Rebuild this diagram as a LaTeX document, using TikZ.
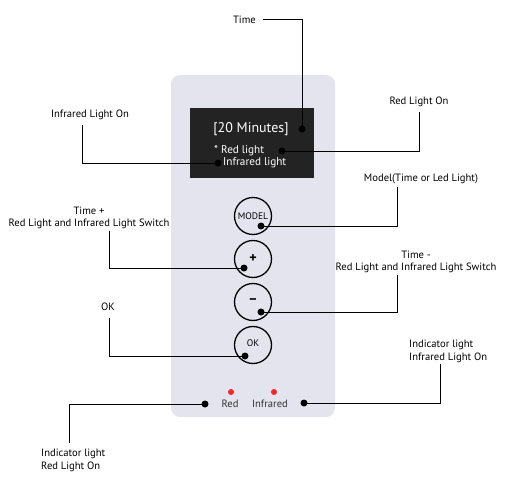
\documentclass[tikz,border=0pt]{standalone}
\usepackage{fontspec}
\setmainfont{PT Sans}
\definecolor{panel}{HTML}{E3E4EE}
\definecolor{screen}{HTML}{232323}
\definecolor{ledred}{HTML}{F0282A}
\begin{document}
\begin{tikzpicture}[x=1pt,y=-1pt,
  lbl/.style={font=\fontsize{10.6}{12.5}\selectfont, text=black, inner sep=0pt, align=center},
  lbll/.style={lbl, align=left},
  conn/.style={draw=black, line width=1pt},
  pin/.style={circle, fill=black, minimum size=7pt, inner sep=0pt},
  btn/.style={circle, draw=black, line width=1.3pt, minimum size=37pt, inner sep=0pt, font=\fontsize{9.5}{10}\selectfont},
  led/.style={circle, fill=ledred, minimum size=6pt, inner sep=0pt}]
\useasboundingbox (0,0) rectangle (512,487);
% panel
\fill[panel, rounded corners=9pt] (171,75) rectangle (335,417);
\fill[screen] (190,108) rectangle (314,178);
% screen texts
\node[font=\fontsize{14}{16}\selectfont, text=white, inner sep=0pt] (mins) at (251,129) {[20 Minutes]};
\node[font=\fontsize{11.2}{13}\selectfont, text=white, inner sep=0pt, anchor=west] (redt) at (214,151) {* Red light};
\node[font=\fontsize{11.2}{13}\selectfont, text=white, inner sep=0pt, anchor=west] (irt) at (223,163) {Infrared light};
% buttons
\node[btn] (bmodel) at (253,216) {MODEL};
\node[btn, font=\fontsize{14}{15}\selectfont\bfseries] (bplus) at (253,259) {+};
\node[btn, font=\fontsize{14}{15}\selectfont\bfseries] (bminus) at (253,302) {\raisebox{1pt}{–}};
\node[btn] (bok) at (253,345) {\raisebox{3pt}{OK}};
% leds
\node[led] (ledr) at (231,392) {};
\node[led] (ledi) at (274,392) {};
\node[lbl, text=black!80] (tred) at (230,404) {Red};
\node[lbl, text=black!80] (tinf) at (270,404) {Infrared};
% pins
\node[pin] (ptime) at (302,129) {};
\node[pin] (pred) at (282,151) {};
\node[pin] (pir) at (218,163) {};
\node[pin] (pmodel) at (261,226) {};
\node[pin] (pplus) at (244,268) {};
\node[pin] (pminus) at (261,312) {};
\node[pin] (pok) at (245,356) {};
\node[pin] (pledr) at (205,404) {};
\node[pin] (pledi) at (304,403) {};
% labels
\node[lbl, anchor=east] (ltime) at (256,20) {Time};
\coordinate (ctime) at (263,20);
\node[lbl] (lred) at (419,102) {Red Light On};
\node[lbl] (lir) at (90,115) {Infrared Light On};
\node[lbl] (lmodel) at (421,179) {Model(Time or Led Light)};
\node[lbl] (lplus) at (89,218) {Time +\\Red Light and Infrared Light Switch};
\node[lbl] (lminus) at (416,262) {Time -\\Red Light and Infrared Light Switch};
\node[lbl] (lok) at (108,307) {OK};
\node[lbll, anchor=north west] (lledi) at (409,340) {Indicator light\\Infrared Light On};
\node[lbll, anchor=north west] (lledr) at (41,449) {Indicator light\\Red Light On};
% connectors
\draw[conn] (ctime) -| (ptime.center);
\draw[conn] (pred.center) -| (lred.south |- 0,112);
\draw[conn] (pir.center) -| (82,125);
\draw[conn] (pmodel.center) -| (397,187);
\draw[conn] (pplus.center) -| (109,231);
\draw[conn] (pminus.center) -| (397,275);
\draw[conn] (pok.center) -| (109,318);
\draw[conn] (pledr.center) -| (69,443);
\draw[conn] (pledi.center) -| (440,364);
\end{tikzpicture}
\end{document}
